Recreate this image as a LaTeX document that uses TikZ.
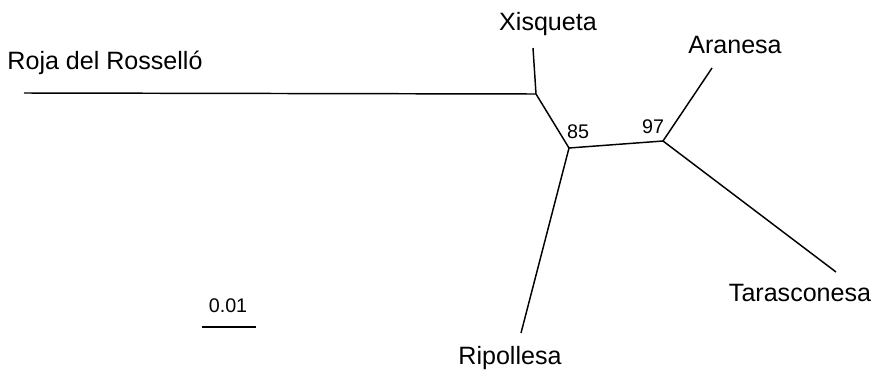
\documentclass[tikz,border=0pt]{standalone}
\usepackage{fontspec}
\setmainfont{Liberation Sans}
\begin{document}
\begin{tikzpicture}[x=0.75pt,y=-0.75pt,
  branch/.style={line width=1.1pt,black},
  taxon/.style={font=\fontsize{18.8}{22}\selectfont,inner sep=0pt},
  support/.style={font=\fontsize{14.8}{17}\selectfont,inner sep=0pt}]
\useasboundingbox (0,0) rectangle (873,371);
% internal nodes and tips
\coordinate (nX) at (536,94);
\coordinate (n85) at (569,148);
\coordinate (n97) at (663,141);
\coordinate (tRoja) at (24,93);
\coordinate (tX) at (533,48);
\coordinate (tA) at (712,68);
\coordinate (tT) at (836,272);
\coordinate (tR) at (521,333);
\coordinate (s1) at (202,327);
\coordinate (s2) at (256,327);
% branches
\draw[branch] (tRoja) -- (nX);
\draw[branch] (tX) -- (nX);
\draw[branch] (nX) -- (n85);
\draw[branch] (n85) -- (n97);
\draw[branch] (n85) -- (tR);
\draw[branch] (n97) -- (tA);
\draw[branch] (n97) -- (tT);
\draw[branch] (s1) -- (s2);
% labels
\node[taxon] (lRoja) at (105,63) {Roja del Rosselló};
\node[taxon] (lX) at (548,24) {Xisqueta};
\node[taxon] (lA) at (735,45) {Aranesa};
\node[taxon] (lT) at (800,293) {Tarasconesa};
\node[taxon] (lR) at (510,358) {Ripollesa};
\node[support] (l85) at (578,132) {85};
\node[support] (l97) at (653,127) {97};
\node[support] (lS) at (228,306) {0.01};
\end{tikzpicture}
\end{document}
